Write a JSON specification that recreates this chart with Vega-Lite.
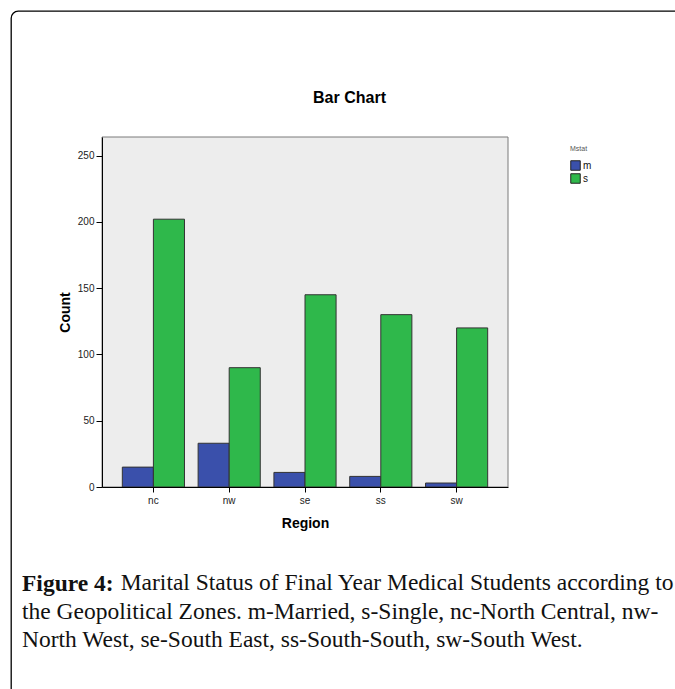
{
  "$schema": "https://vega.github.io/schema/vega-lite/v6.json",
  "width": 674,
  "height": 688,
  "autosize": {"type": "none"},
  "padding": {"left": 11, "top": 11, "right": -10, "bottom": -10},
  "background": "white",
  "config": {
    "view": {"stroke": "#000", "strokeWidth": 1.3, "cornerRadius": 7, "fill": "white"},
    "font": "Liberation Sans"
  },
  "title": {
    "text": "Figure 4:",
    "subtitle": [
      "\u200B\u2003\u2003\u2003\u2003\u2009Marital Status of Final Year Medical Students according to",
      "the Geopolitical Zones. m-Married, s-Single, nc-North Central, nw-",
      "North West, se-South East, ss-South-South, sw-South West."
    ],
    "orient": "bottom",
    "anchor": "start",
    "frame": "group",
    "offset": -127,
    "dx": 11,
    "font": "Liberation Serif",
    "fontSize": 23.5,
    "fontWeight": "bold",
    "color": "#111",
    "subtitleFont": "Liberation Serif",
    "subtitleFontSize": 23.5,
    "subtitleFontWeight": "normal",
    "subtitleColor": "#111",
    "lineHeight": 28.5,
    "subtitleLineHeight": 28.5,
    "subtitlePadding": -24.5
  },
  "data": {
    "values": [
      {"Region": "nc", "Mstat": "m", "Count": 15},
      {"Region": "nc", "Mstat": "s", "Count": 202},
      {"Region": "nw", "Mstat": "m", "Count": 33},
      {"Region": "nw", "Mstat": "s", "Count": 90},
      {"Region": "se", "Mstat": "m", "Count": 11},
      {"Region": "se", "Mstat": "s", "Count": 145},
      {"Region": "ss", "Mstat": "m", "Count": 8},
      {"Region": "ss", "Mstat": "s", "Count": 130},
      {"Region": "sw", "Mstat": "m", "Count": 3},
      {"Region": "sw", "Mstat": "s", "Count": 120}
    ]
  },
  "layer": [
    {
      "data": {"values": [{"panel": "plot"}]},
      "mark": {"type": "rect", "fill": "#ededed", "stroke": "#7a7a7a", "strokeWidth": 1},
      "encoding": {
        "x": {
          "datum": 0,
          "type": "quantitative",
          "scale": {"domain": [0, 1], "range": [91, 497]},
          "axis": {
            "orient": "top",
            "domain": false,
            "ticks": false,
            "labels": false,
            "grid": false,
            "title": "Bar Chart",
            "titleX": 338,
            "titleY": 86,
            "titleAlign": "center",
            "titleBaseline": "middle",
            "titleFontSize": 16,
            "titleFontWeight": "bold",
            "titleColor": "#000"
          }
        },
        "x2": {"datum": 1},
        "y": {"datum": 0, "type": "quantitative", "title": "Count"},
        "y2": {"datum": 264}
      }
    },
    {
      "mark": {"type": "bar", "stroke": "#333", "strokeWidth": 1},
      "encoding": {
        "x": {
          "field": "Region",
          "type": "nominal",
          "scale": {"range": [91, 497], "paddingInner": 0.18, "paddingOuter": 0.268},
          "axis": {
            "orient": "bottom",
            "offset": -212,
            "labelAngle": 0,
            "grid": false,
            "domainColor": "#000",
            "tickColor": "#000",
            "tickSize": 5,
            "labelPadding": 3,
            "labelFontSize": 10,
            "labelColor": "#222",
            "title": "Region",
            "titleFontSize": 14,
            "titleFontWeight": "bold",
            "titleColor": "#000",
            "titlePadding": 11,
            "zindex": 1
          }
        },
        "xOffset": {"field": "Mstat", "type": "nominal", "scale": {"paddingInner": 0, "paddingOuter": 0}},
        "y": {
          "field": "Count",
          "type": "quantitative",
          "scale": {"domain": [0, 264], "range": [476, 126], "nice": false},
          "axis": {
            "orient": "left",
            "offset": -91,
            "values": [0, 50, 100, 150, 200, 250],
            "grid": false,
            "domainColor": "#000",
            "tickColor": "#000",
            "tickSize": 6,
            "labelPadding": 2,
            "labelFontSize": 10,
            "labelColor": "#222",
            "title": "Count",
            "titleFontSize": 14,
            "titleFontWeight": "bold",
            "titleColor": "#000",
            "titlePadding": 5,
            "zindex": 1
          }
        },
        "color": {
          "field": "Mstat",
          "type": "nominal",
          "scale": {"domain": ["m", "s"], "range": ["#3a50ab", "#2fb84b"]},
          "legend": {
            "orient": "none",
            "legendX": 559,
            "legendY": 134,
            "title": "Mstat",
            "titleFontSize": 7,
            "titleFontWeight": "normal",
            "titleColor": "#555",
            "titlePadding": 8,
            "symbolType": "square",
            "symbolSize": 90,
            "symbolStrokeColor": "#222",
            "symbolStrokeWidth": 1,
            "symbolOpacity": 1,
            "labelFontSize": 10,
            "labelColor": "#111",
            "labelOffset": 2,
            "rowPadding": -3
          }
        }
      }
    }
  ],
  "resolve": {"scale": {"x": "independent"}, "axis": {"x": "independent"}}
}
